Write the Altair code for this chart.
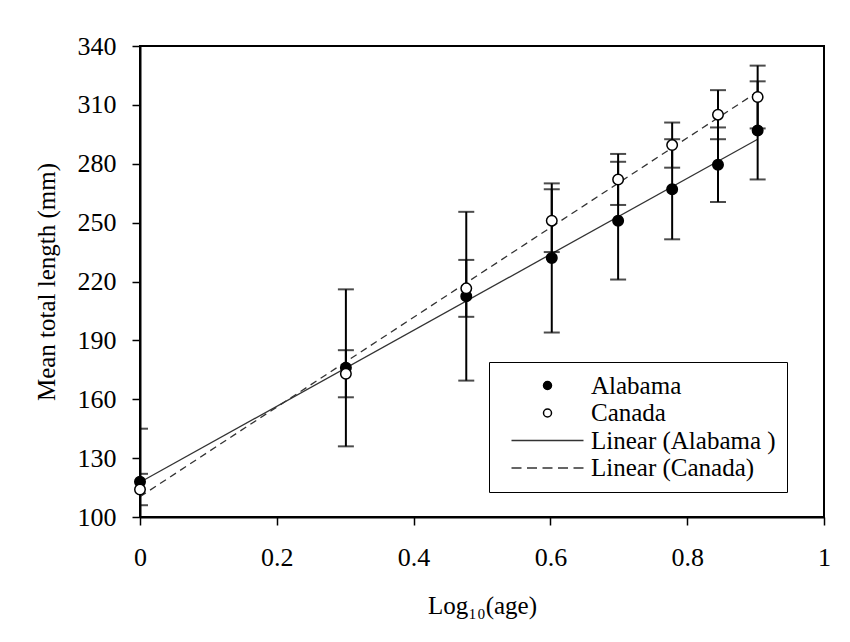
import altair as alt
import pandas as pd

log_age = [0.0, 0.301, 0.477, 0.602, 0.699, 0.778, 0.845, 0.903]
alabama_mean = [118, 176, 212.5, 232, 251, 267, 279.5, 297]
alabama_err = [27, 40, 43, 38, 30, 25.5, 19, 25]
canada_mean = [114, 173, 216.5, 251, 272, 289.5, 305, 314]
canada_err = [8, 12, 14.5, 16, 13, 11.5, 12.5, 16]

series_names = ["Alabama", "Canada", "Linear (Alabama )", "Linear (Canada)"]

rows = []
for name, means, errs in [("Alabama", alabama_mean, alabama_err), ("Canada", canada_mean, canada_err)]:
    for x, m, e in zip(log_age, means, errs):
        rows.append({"x": x, "y": m, "lo": m - e, "hi": m + e, "series": name})
df = pd.DataFrame(rows)

FONT = "Liberation Serif"
xs = alt.Scale(domain=[0, 1])
ys = alt.Scale(domain=[100, 340])

base = alt.Chart(df)

xenc = alt.X("x:Q", scale=xs, title="Log₁₀(age)",
             axis=alt.Axis(values=[0, 0.2, 0.4, 0.6, 0.8, 1], format="~g", labelFlush=False,
                           labelPadding=19, titlePadding=23))
yenc = alt.Y("y:Q", scale=ys, title="Mean total length (mm)",
             axis=alt.Axis(values=[100, 130, 160, 190, 220, 250, 280, 310, 340], labelFlush=False,
                           labelPadding=16, titlePadding=18))

bars = base.mark_rule(color="black", strokeWidth=2, clip=True).encode(
    x=alt.X("x:Q", scale=xs), y=alt.Y("lo:Q", scale=ys), y2="hi:Q")
cap_lo = base.mark_tick(color="black", thickness=2, size=16, orient="horizontal", clip=True).encode(
    x=alt.X("x:Q", scale=xs), y=alt.Y("lo:Q", scale=ys))
cap_hi = base.mark_tick(color="black", thickness=2, size=16, orient="horizontal", clip=True).encode(
    x=alt.X("x:Q", scale=xs), y=alt.Y("hi:Q", scale=ys))

line_al = base.transform_filter(alt.datum.series == "Alabama").transform_regression(
    "x", "y", extent=[0, 0.903]).mark_line(color="#333333", strokeWidth=1.3).encode(
    x=alt.X("x:Q", scale=xs), y=alt.Y("y:Q", scale=ys))
line_ca = base.transform_filter(alt.datum.series == "Canada").transform_regression(
    "x", "y", extent=[0, 0.903]).mark_line(color="#333333", strokeWidth=1.3, strokeDash=[7, 5]).encode(
    x=alt.X("x:Q", scale=xs), y=alt.Y("y:Q", scale=ys))

dash_path = "M-9,0H-6.5M-5.125,0H-2.625M-1.25,0H1.25M2.625,0H5.125M6.5,0H9"
line_path = "M-9,0H9"

legend = alt.Legend(
    title=None, orient="none", legendX=349, legendY=316,
    labelFont=FONT, labelFontSize=25, labelColor="black", labelOffset=31, labelLimit=0,
    symbolSize=64, symbolStrokeColor="black", symbolStrokeWidth=1.5, symbolOffset=35,
    strokeColor="black", fillColor="white", padding=11, rowPadding=1.5,
    symbolLimit=0)

points = base.mark_point(strokeWidth=1.5, size=110, opacity=1).encode(
    x=alt.X("x:Q", scale=xs), y=alt.Y("y:Q", scale=ys),
    shape=alt.Shape("series:N", scale=alt.Scale(domain=series_names,
                    range=["circle", "circle", line_path, dash_path]), legend=legend),
    fill=alt.Fill("series:N", scale=alt.Scale(domain=series_names,
                  range=["black", "white", "black", "black"]), legend=legend),
    stroke=alt.Stroke("series:N", scale=alt.Scale(domain=series_names,
                  range=["black", "black", "#333333", "#333333"]), legend=legend),
)

axes = alt.Chart(df).mark_point(opacity=0).encode(x=xenc, y=yenc)

chart = alt.layer(line_al, line_ca, bars, cap_lo, cap_hi, axes, points).properties(
    width=684, height=471, background="white",
    padding={"top": 25, "left": 26, "right": 5, "bottom": 5}
).configure_view(stroke="black", strokeWidth=2).configure_axis(
    grid=False, domainColor="black", domainWidth=2, tickColor="black", tickSize=8, tickWidth=1.5,
    labelFont=FONT, labelFontSize=26, labelColor="black",
    titleFont=FONT, titleFontSize=25, titleColor="black", titleFontWeight="normal"
)

chart.save("out.html", embed_options={"renderer": "svg", "actions": False})
